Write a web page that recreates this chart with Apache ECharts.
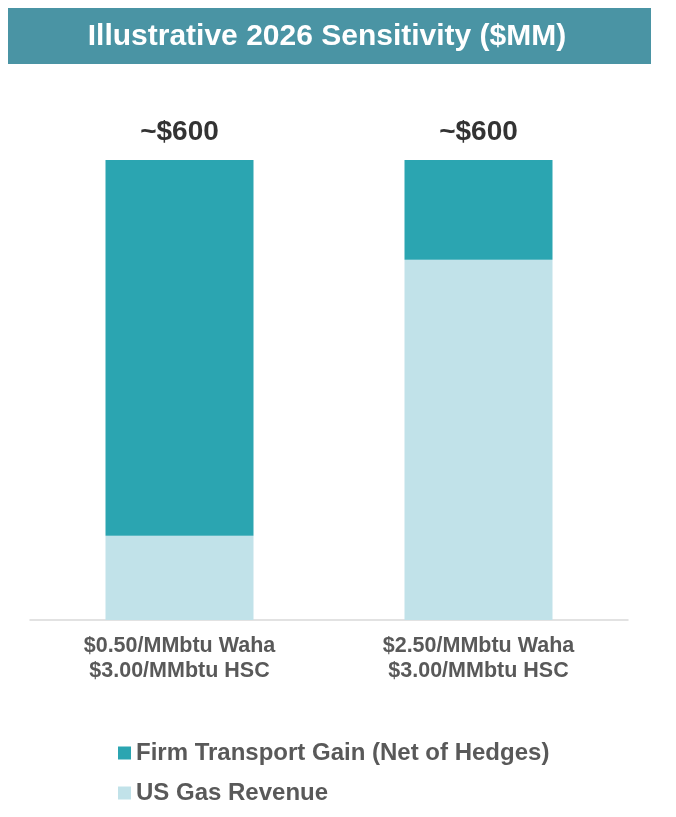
<!DOCTYPE html>
<html>
<head>
<meta charset="utf-8">
<script src="https://cdn.jsdelivr.net/npm/echarts@6/dist/echarts.min.js"></script>
<style>
  html, body { margin: 0; padding: 0; background: #fff; }
  #main { width: 676px; height: 817px; }
</style>
</head>
<body>
<div id="main"></div>
<script>
// 数据
var categories = ['$0.50/MMbtu Waha\n$3.00/MMbtu HSC', '$2.50/MMbtu Waha\n$3.00/MMbtu HSC'];
var gasRevenue = [110, 470];
var transportGain = [490, 130];
var totalLabels = ['~$600', '~$600'];

var chart = echarts.init(document.getElementById('main'));

var option = {
  backgroundColor: '#fff',
  animation: false,
  graphic: [
    {
      type: 'rect',
      shape: { x: 8, y: 8, width: 643, height: 56 },
      style: { fill: '#4a94a4' }
    },
    {
      type: 'text',
      x: 327,
      y: 37,
      style: {
        text: 'Illustrative 2026 Sensitivity ($MM)',
        fill: '#fff',
        font: 'bold 30px "Liberation Sans", Arial, sans-serif',
        align: 'center',
        verticalAlign: 'middle'
      }
    }
  ],
  legend: {
    orient: 'vertical',
    left: 113,
    top: 736,
    itemWidth: 13,
    itemHeight: 13,
    itemGap: 16,
    icon: 'rect',
    data: ['Firm Transport Gain (Net of Hedges)', 'US Gas Revenue'],
    textStyle: {
      color: '#595959',
      fontSize: 24,
      fontWeight: 'bold',
      fontFamily: '"Liberation Sans", Arial, sans-serif'
    }
  },
  grid: { left: 30, right: 48, top: 160, bottom: 197 },
  xAxis: {
    type: 'category',
    data: categories,
    axisLine: { lineStyle: { color: '#d9d9d9', width: 1.5 } },
    axisTick: { show: false },
    axisLabel: {
      color: '#595959',
      fontSize: 21.5,
      fontWeight: 'bold',
      lineHeight: 25,
      margin: 14,
      fontFamily: '"Liberation Sans", Arial, sans-serif'
    }
  },
  yAxis: {
    type: 'value',
    min: 0,
    max: 600,
    show: false,
    splitLine: { show: false }
  },
  series: [
    {
      name: 'US Gas Revenue',
      type: 'bar',
      stack: 'total',
      barWidth: 148,
      data: gasRevenue,
      itemStyle: { color: '#c1e2e9' }
    },
    {
      name: 'Firm Transport Gain (Net of Hedges)',
      type: 'bar',
      stack: 'total',
      barWidth: 148,
      data: transportGain,
      itemStyle: { color: '#2ba5b1' },
      label: {
        show: true,
        position: 'top',
        distance: 14,
        formatter: function (p) { return totalLabels[p.dataIndex]; },
        color: '#333',
        fontSize: 28,
        fontWeight: 'bold',
        fontFamily: '"Liberation Sans", Arial, sans-serif'
      }
    }
  ]
};

chart.setOption(option);
</script>
</body>
</html>
